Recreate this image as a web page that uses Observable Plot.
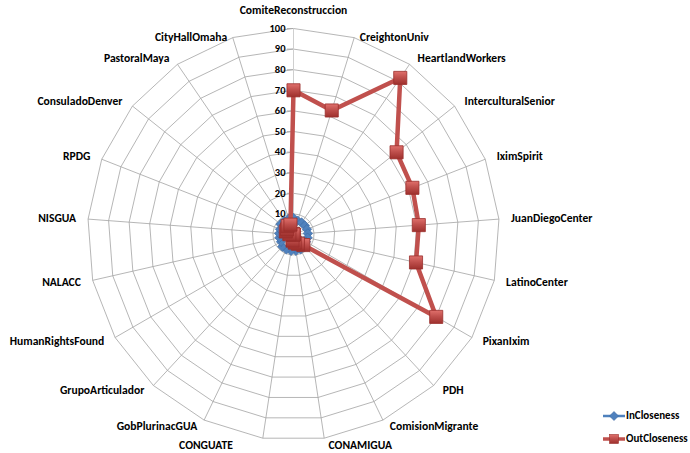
<!DOCTYPE html>
<html>
<head>
<meta charset="utf-8">
<script src="https://cdn.jsdelivr.net/npm/d3@7"></script>
<script src="https://cdn.jsdelivr.net/npm/@observablehq/plot@0.6"></script>
<style>
  body { margin: 0; background: #fff; }
  #wrap { position: relative; width: 690px; height: 453px; font-family: Carlito, Lato, "Liberation Sans", sans-serif; }
  #legend { position: absolute; left: 603px; top: 404px; font-weight: bold; font-size: 11px; color: #000; }
  #legend .item { display: flex; align-items: center; height: 23px; }
  #legend svg { margin-right: 1px; }
</style>
</head>
<body>
<div id="wrap"></div>
<script>
const categories = ["ComiteReconstruccion","CreightonUniv","HeartlandWorkers","InterculturalSenior","IximSpirit","JuanDiegoCenter","LatinoCenter","PixanIxim","PDH","ComisionMigrante","CONAMIGUA","CONGUATE","GobPlurinacGUA","GrupoArticulador","HumanRightsFound","NALACC","NISGUA","RPDG","ConsuladoDenver","PastoralMaya","CityHallOmaha"];
const inCloseness = [8,7,7,7,7,7,7,7,8,8,8,8,8,8,7,7,7,7,8,8,8];
const outCloseness = [70,63,92,64,62,61,61,80,7,5,4,3,0,0,0,0,2,4,4,5,5];
const seriesNames = ["InCloseness","OutCloseness"];
const ringLevels = [10,20,30,40,50,60,70,80,90,100];
const tickValues = [0,10,20,30,40,50,60,70,80,90,100];

const N = categories.length;
const PX = 206 / 100; // pixels per value unit
const ang = i => i * 2 * Math.PI / N;
const polar = (v, i) => ({x: v * Math.sin(ang(i)), y: v * Math.cos(ang(i))});

const inPts = categories.map((c, i) => ({cat: c, v: inCloseness[i], ...polar(inCloseness[i], i)}));
const outPts = categories.map((c, i) => ({cat: c, v: outCloseness[i], ...polar(outCloseness[i], i)}));
const rings = ringLevels.flatMap(r => categories.map((c, i) => ({ring: r, ...polar(r, i)})));
const spokes = categories.map((c, i) => ({cat: c, ...polar(100, i)}));

const labels = categories.map((c, i) => {
  const s = Math.sin(ang(i)), co = Math.cos(ang(i));
  const sign = Math.abs(s) < 0.05 ? 0 : Math.sign(s);
  let dxPx = sign * (3 + 9 * Math.abs(s));
  if (co < -0.95 && s < 0) dxPx = -30;
  const dyPx = i === 0 ? -18 : (co > 0.9 ? 0 : -7 * co);
  return {cat: c, side: sign, x: 100 * s + dxPx / PX, y: 100 * co - dyPx / PX};
});

const redStroke = "#9B2F2C";
const red = "#C0504D";
const blue = "#4F81BD";
const font = "Carlito, Lato, 'Liberation Sans', sans-serif";

const plot = Plot.plot({
  width: 690, height: 453,
  marginLeft: 87, marginRight: 191, marginTop: 28, marginBottom: 13,
  x: {domain: [-100, 100], axis: null},
  y: {domain: [-100, 100], axis: null},
  style: {background: "#fff", fontFamily: font, overflow: "visible"},
  marks: [
    Plot.line(rings, {x: "x", y: "y", z: "ring", curve: "linear-closed", stroke: "#a3a3a3", strokeWidth: 0.8}),
    Plot.link(spokes.slice(1), {x1: 0, y1: 0, x2: "x", y2: "y", stroke: "#a3a3a3", strokeWidth: 0.8}),
    Plot.link(spokes.slice(0, 1), {x1: 0, y1: 0, x2: "x", y2: "y", stroke: "#cfcfcf", strokeWidth: 1}),
    Plot.ruleY(tickValues, {y: d => d, x1: -3, x2: 0, stroke: "#a3a3a3", strokeWidth: 0.8}),
    Plot.text(tickValues, {x: 0, y: d => d, text: d => String(d), textAnchor: "end", dx: -8, fontSize: 10.5, fontWeight: "bold", fill: "#000"}),
    Plot.text(labels.filter(d => d.side > 0), {x: "x", y: "y", text: "cat", textAnchor: "start", fontSize: 11.6, fontWeight: "bold", fill: "#000"}),
    Plot.text(labels.filter(d => d.side < 0), {x: "x", y: "y", text: "cat", textAnchor: "end", fontSize: 11.6, fontWeight: "bold", fill: "#000"}),
    Plot.text(labels.filter(d => d.side === 0), {x: "x", y: "y", text: "cat", textAnchor: "middle", fontSize: 11.6, fontWeight: "bold", fill: "#000"}),
    Plot.line(inPts, {x: "x", y: "y", curve: "linear-closed", stroke: blue, strokeWidth: 2.5}),
    Plot.dot(inPts, {x: "x", y: "y", symbol: "diamond2", r: 4.3, fill: blue, stroke: "#3A66A0", strokeWidth: 0.6}),
    Plot.line(outPts, {x: "x", y: "y", curve: "linear-closed", stroke: red, strokeWidth: 4.5}),
    Plot.dot(outPts, {x: "x", y: "y", symbol: "square", r: 7.4, fill: "url(#redGrad)", stroke: redStroke, strokeWidth: 0.8})
  ]
});

// gradient for 3D-looking markers
const svgNS = "http://www.w3.org/2000/svg";
const defs = document.createElementNS(svgNS, "defs");
defs.innerHTML = `<linearGradient id="redGrad" x1="0" y1="0" x2="0" y2="1">
  <stop offset="0" stop-color="#E0706C"/>
  <stop offset="0.45" stop-color="#C0504D"/>
  <stop offset="1" stop-color="#9E302D"/>
</linearGradient>`;
plot.insertBefore(defs, plot.firstChild);

const wrap = document.getElementById("wrap");
wrap.appendChild(plot);

const legend = document.createElement("div");
legend.id = "legend";
legend.innerHTML = `
  <div class="item"><svg width="22" height="12"><line x1="0" x2="22" y1="6" y2="6" stroke="${blue}" stroke-width="2.5"/><path d="M11,1.5L15.5,6L11,10.5L6.5,6Z" fill="${blue}" stroke="#3A66A0" stroke-width="0.6"/></svg><span>${seriesNames[0]}</span></div>
  <div class="item"><svg width="22" height="12"><line x1="0" x2="22" y1="6" y2="6" stroke="${red}" stroke-width="3.5"/><rect x="6.5" y="1.5" width="9" height="9" fill="url(#redGrad)" stroke="${redStroke}" stroke-width="0.6"/></svg><span>${seriesNames[1]}</span></div>`;
wrap.appendChild(legend);
</script>
</body>
</html>
